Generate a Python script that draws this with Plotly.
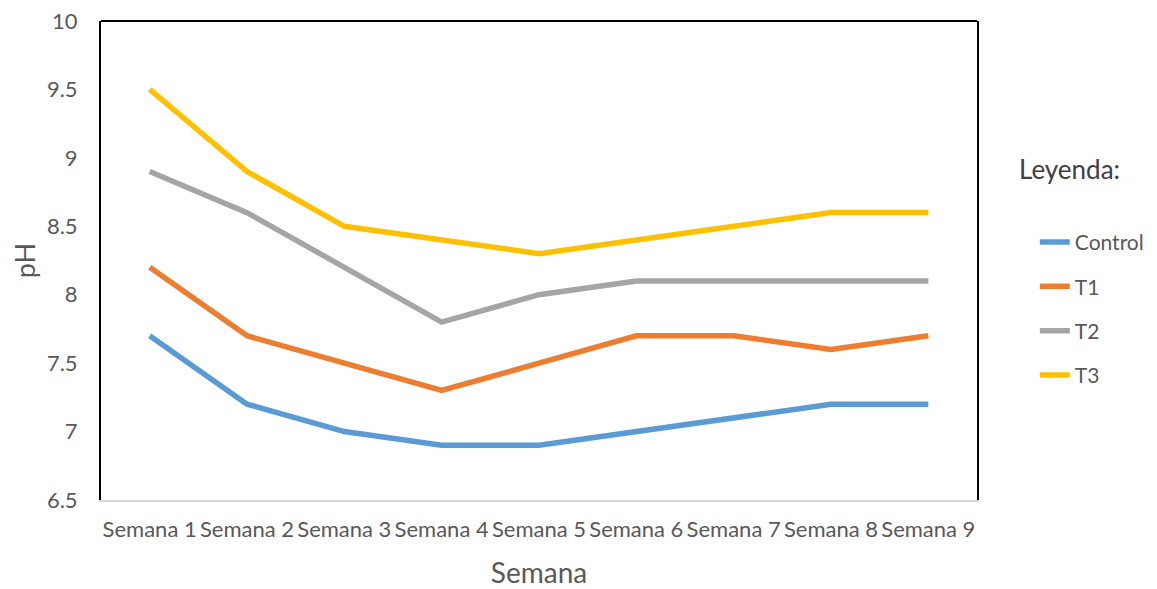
import plotly.graph_objects as go

semanas = ["Semana 1", "Semana 2", "Semana 3", "Semana 4", "Semana 5",
           "Semana 6", "Semana 7", "Semana 8", "Semana 9"]
control = [7.7, 7.2, 7.0, 6.9, 6.9, 7.0, 7.1, 7.2, 7.2]
t1 = [8.2, 7.7, 7.5, 7.3, 7.5, 7.7, 7.7, 7.6, 7.7]
t2 = [8.9, 8.6, 8.2, 7.8, 8.0, 8.1, 8.1, 8.1, 8.1]
t3 = [9.5, 8.9, 8.5, 8.4, 8.3, 8.4, 8.5, 8.6, 8.6]
y_ticks = [6.5, 7, 7.5, 8, 8.5, 9, 9.5, 10]
y_tick_text = ["6.5", "7", "7.5", "8", "8.5", "9", "9.5", "10"]

series = [("Control", control, "#5B9BD5"), ("T1", t1, "#ED7D31"),
          ("T2", t2, "#A5A5A5"), ("T3", t3, "#FFC000")]

FONT = "Lato"
GRAY = "#595959"

fig = go.Figure()
for name, vals, color in series:
    fig.add_trace(go.Scatter(x=semanas, y=vals, mode="lines", name=name,
                             legendgroup=name,
                             line=dict(color=color, width=5.5)))

fig.update_layout(
    width=1149, height=581,
    margin=dict(l=93, r=180, t=13, b=89, autoexpand=False),
    paper_bgcolor="white", plot_bgcolor="white",
    font=dict(family=FONT, color=GRAY),
    showlegend=True,
    legend=dict(x=1.066, y=0.399, xanchor="left", yanchor="middle",
                font=dict(family=FONT, size=21, color=GRAY),
                tracegroupgap=14, itemwidth=30,
                bgcolor="rgba(0,0,0,0)"),
    xaxis=dict(type="category", range=[-0.5, 8.5], automargin=False,
               showline=True, linecolor="#D9D9D9", linewidth=2,
               showgrid=False, zeroline=False, ticks="",
               ticklabelstandoff=9, ticklabeloverflow="allow",
               tickfont=dict(family=FONT, size=22, color=GRAY),
               title=dict(text="Semana", font=dict(family=FONT, size=28, color=GRAY),
                          standoff=23)),
    yaxis=dict(range=[6.5, 10], tickvals=y_ticks, ticktext=y_tick_text,
               automargin=False,
               showline=True, linecolor="black", linewidth=2, mirror=True,
               showgrid=False, zeroline=False, ticks="",
               ticklabelstandoff=17, ticklabeloverflow="allow",
               tickfont=dict(family=FONT, size=22, color=GRAY),
               title=dict(text="pH", font=dict(family=FONT, size=27, color=GRAY),
                          standoff=16)),
    annotations=[dict(text="Leyenda:", x=1.0457, y=0.69, xref="paper", yref="paper",
                      xanchor="left", yanchor="middle", showarrow=False,
                      font=dict(family=FONT, size=26, color="#404040"))],
    shapes=[dict(type="line", xref="paper", yref="paper", x0=0, x1=1, y0=1, y1=1,
                 line=dict(color="black", width=2))],
)

fig.write_html("out.html")
